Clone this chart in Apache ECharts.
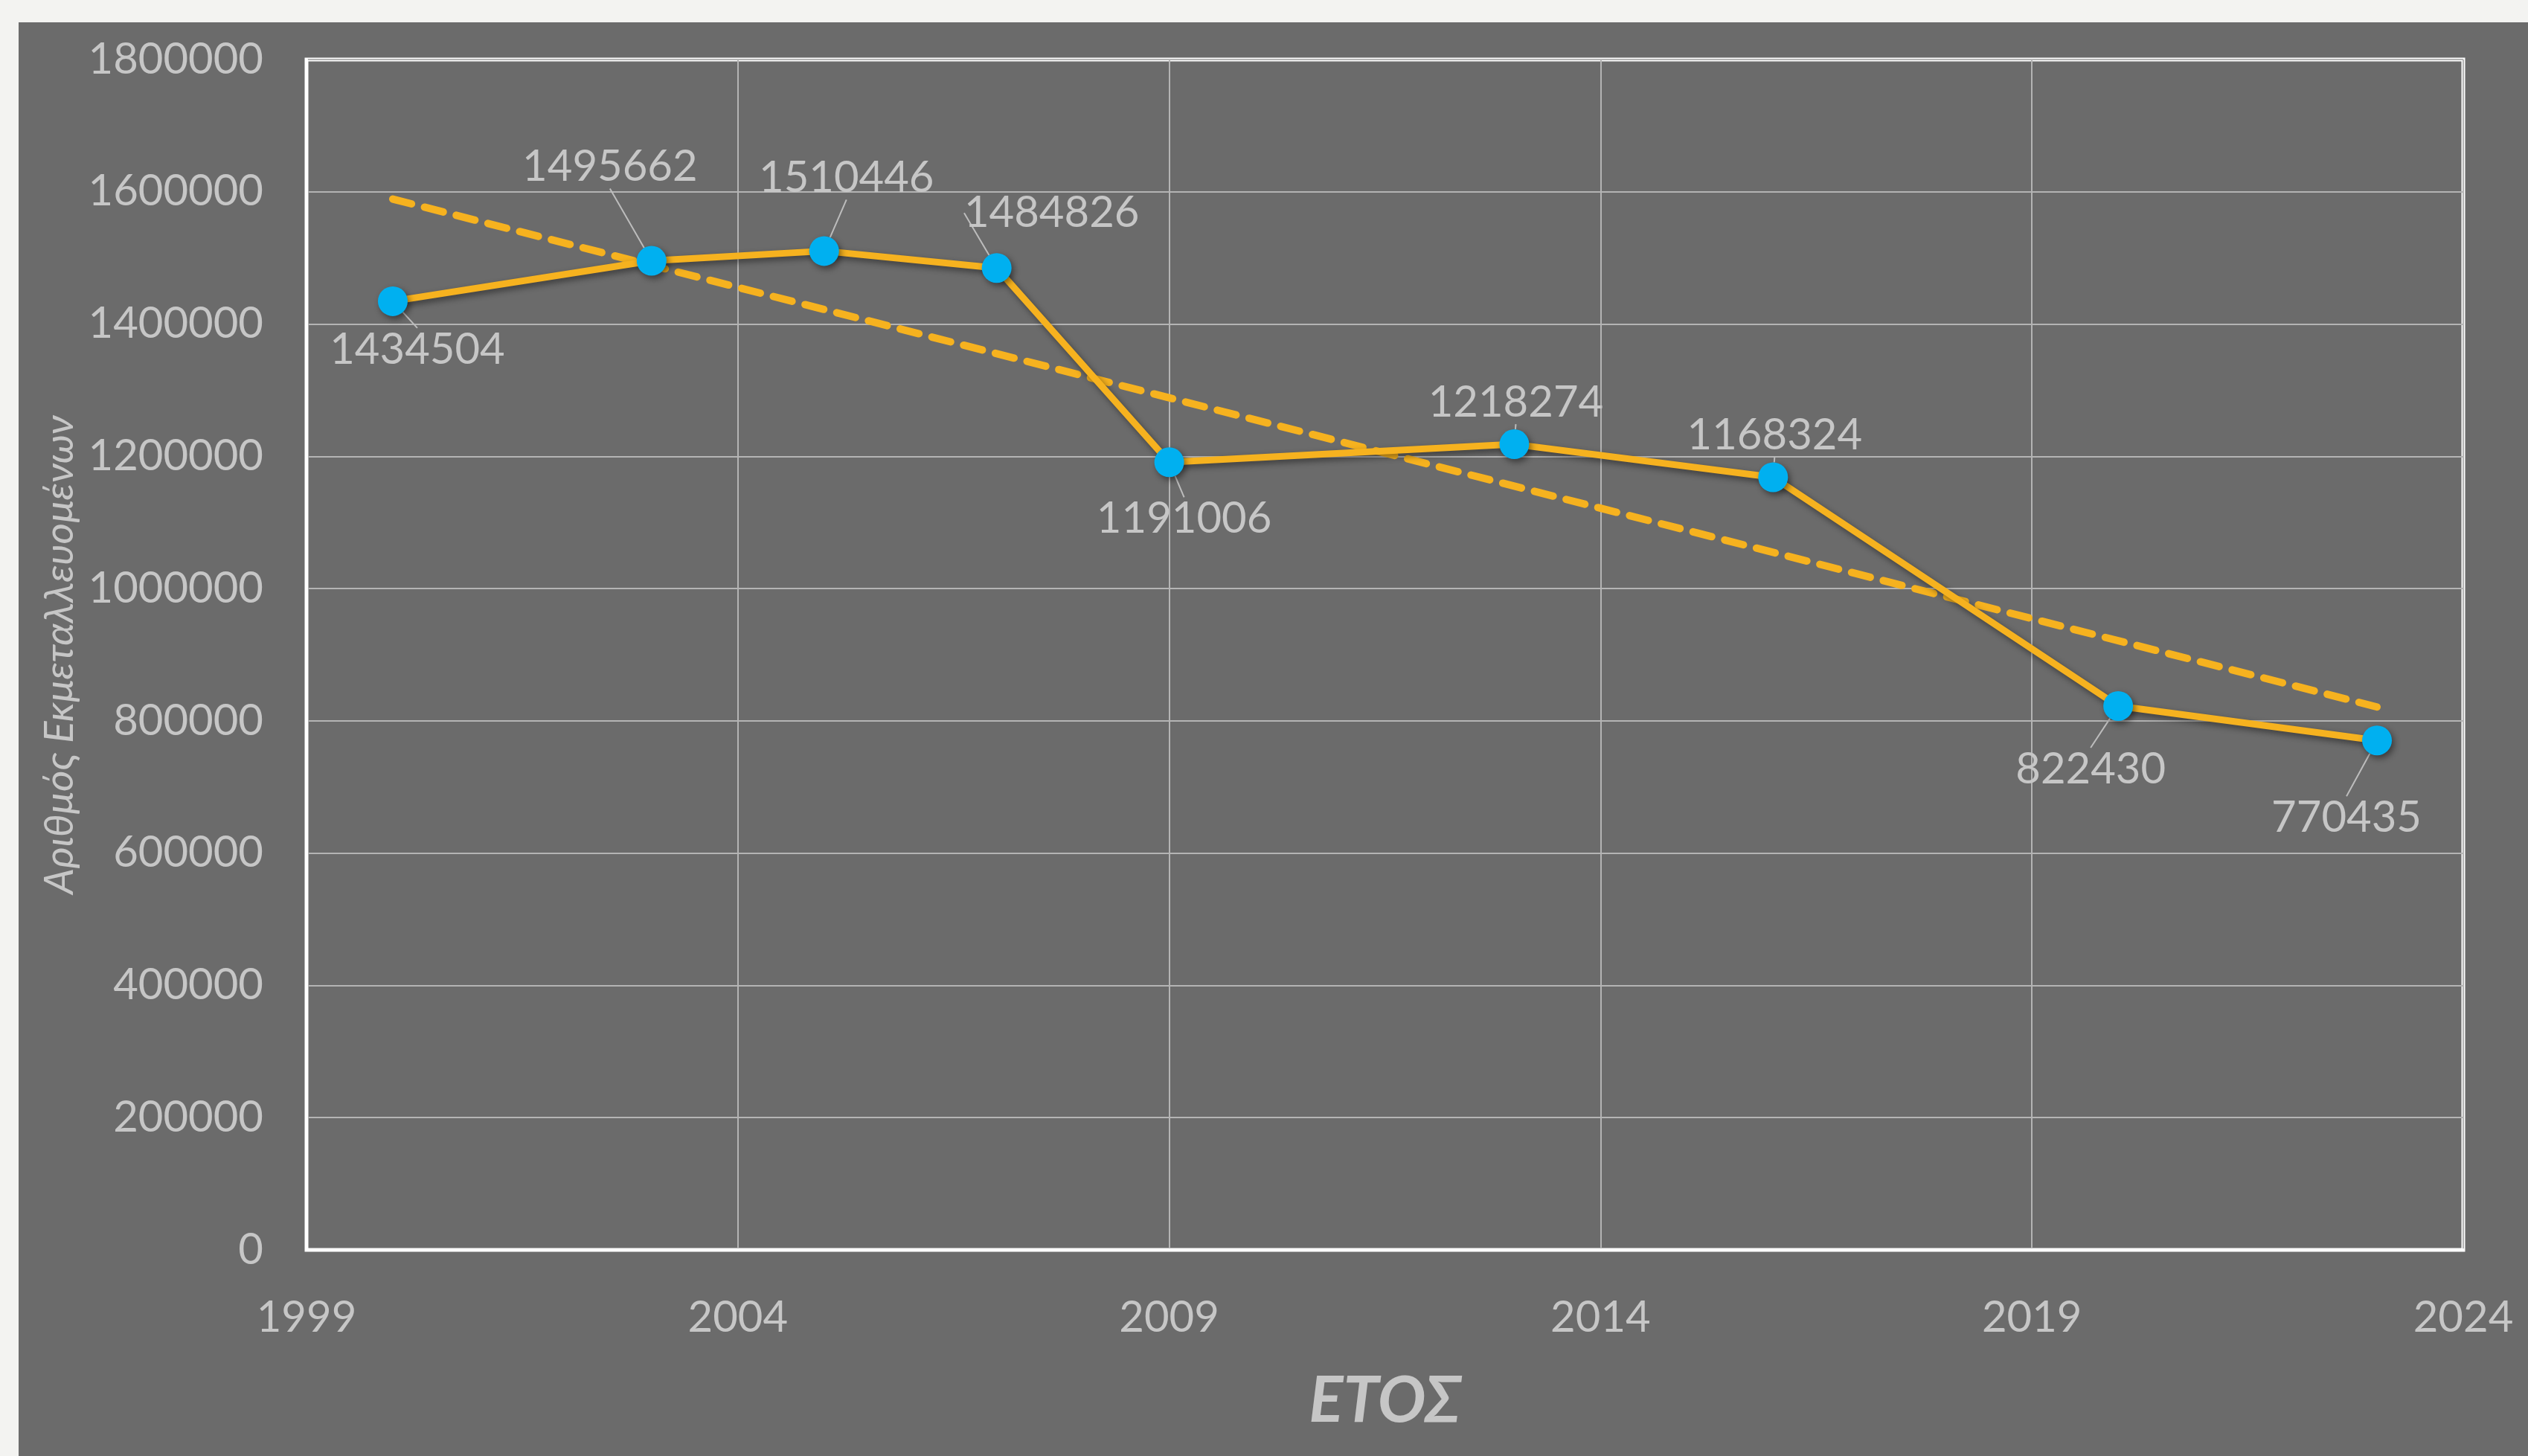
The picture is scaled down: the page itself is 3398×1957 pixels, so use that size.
<!DOCTYPE html>
<html>
<head>
<meta charset="utf-8">
<title>Αριθμός Εκμεταλλευομένων</title>
<script src="https://cdn.jsdelivr.net/npm/echarts@6/dist/echarts.min.js"></script>
<style>
    html, body {
        margin: 0;
        padding: 0;
        background: #f3f3f1;
        width: 3398px;
        height: 1957px;
        overflow: hidden;
    }
    #chart {
        position: absolute;
        left: 25px;
        top: 30px;
        width: 3373px;
        height: 1927px;
        background: #6b6b6b;
    }
</style>
</head>
<body>
<div id="chart"></div>
<script>
// data
var years = [2000, 2003, 2005, 2007, 2009, 2013, 2016, 2020, 2023];
var farms = [1434504, 1495662, 1510446, 1484826, 1191006, 1218274, 1168324, 822430, 770435];
// linear trend, end points
var trendYears = [2000, 2023];
var trendValues = [1589000, 821000];
// where each data label sits, relative to its point
var labelOffsets = [
    [33, 65], [-56, -126], [30, -98], [74, -74], [20, 76],
    [2, -56], [2, -56], [-37, 85], [-41, 104]
];

var textColor = "#c6c6c6";
var font = "Lato, 'Open Sans', sans-serif";

var mychart = echarts.init(document.getElementById("chart"));

var option = {
    animation: false,
    grid: {
        left: 387,
        top: 50,
        right: 87,
        bottom: 277,
        show: true,
        borderColor: "#ffffff",
        borderWidth: 5,
    },
    xAxis: {
        type: "value",
        min: 1999,
        max: 2024,
        interval: 5,
        name: "ΕΤΟΣ",
        nameLocation: "middle",
        nameGap: 160,
        nameTextStyle: {
            color: textColor,
            fontFamily: font,
            fontSize: 86,
            fontStyle: "italic",
            fontWeight: "bold",
        },
        axisLine: { show: true, lineStyle: { color: "#ffffff", width: 4 } },
        axisTick: { show: false },
        axisLabel: {
            color: textColor,
            fontFamily: font,
            fontSize: 58,
            margin: 62,
            formatter: function (v) {
                return String(v);
            },
        },
        splitLine: { show: true, lineStyle: { color: "#b4b4b4", width: 2 } },
    },
    yAxis: {
        type: "value",
        min: 0,
        max: 1800000,
        interval: 200000,
        name: "Αριθμός Εκμεταλλευομένων",
        nameLocation: "middle",
        nameGap: 268,
        nameTextStyle: {
            color: textColor,
            fontFamily: font,
            fontSize: 55,
            fontStyle: "italic",
        },
        axisLine: { show: true, lineStyle: { color: "#ffffff", width: 4 } },
        axisTick: { show: false },
        axisLabel: {
            color: textColor,
            fontFamily: font,
            fontSize: 58,
            margin: 58,
            formatter: function (v) {
                return String(v);
            },
        },
        splitLine: { show: true, lineStyle: { color: "#b4b4b4", width: 2 } },
    },
    series: [
        {
            name: "τάση",
            type: "line",
            data: trendYears.map(function (y, i) {
                return [y, trendValues[i]];
            }),
            symbol: "none",
            lineStyle: {
                color: "#f6b21f",
                width: 10,
                type: [26, 18],
                cap: "round",
            },
            z: 2,
        },
        {
            name: "Εκμεταλλευόμενοι",
            type: "line",
            data: years.map(function (y, i) {
                return [y, farms[i]];
            }),
            symbol: "circle",
            symbolSize: 40,
            itemStyle: {
                color: "#00b0f0",
                shadowColor: "rgba(0,0,0,0.45)",
                shadowBlur: 8,
                shadowOffsetX: 3,
                shadowOffsetY: 4,
            },
            lineStyle: {
                color: "#f6b21f",
                width: 9,
                shadowColor: "rgba(0,0,0,0.45)",
                shadowBlur: 8,
                shadowOffsetX: 3,
                shadowOffsetY: 4,
            },
            label: {
                show: true,
                position: "inside",
                color: textColor,
                fontFamily: font,
                fontSize: 58,
                formatter: function (p) {
                    return p.value[1];
                },
            },
            labelLine: {
                show: true,
                smooth: false,
                lineStyle: { color: "#bdbdbd", width: 2 },
            },
            labelLayout: function (params) {
                var o = labelOffsets[params.dataIndex];
                return { dx: o[0], dy: o[1] };
            },
            z: 3,
        },
    ],
};

mychart.setOption(option);
</script>
</body>
</html>
